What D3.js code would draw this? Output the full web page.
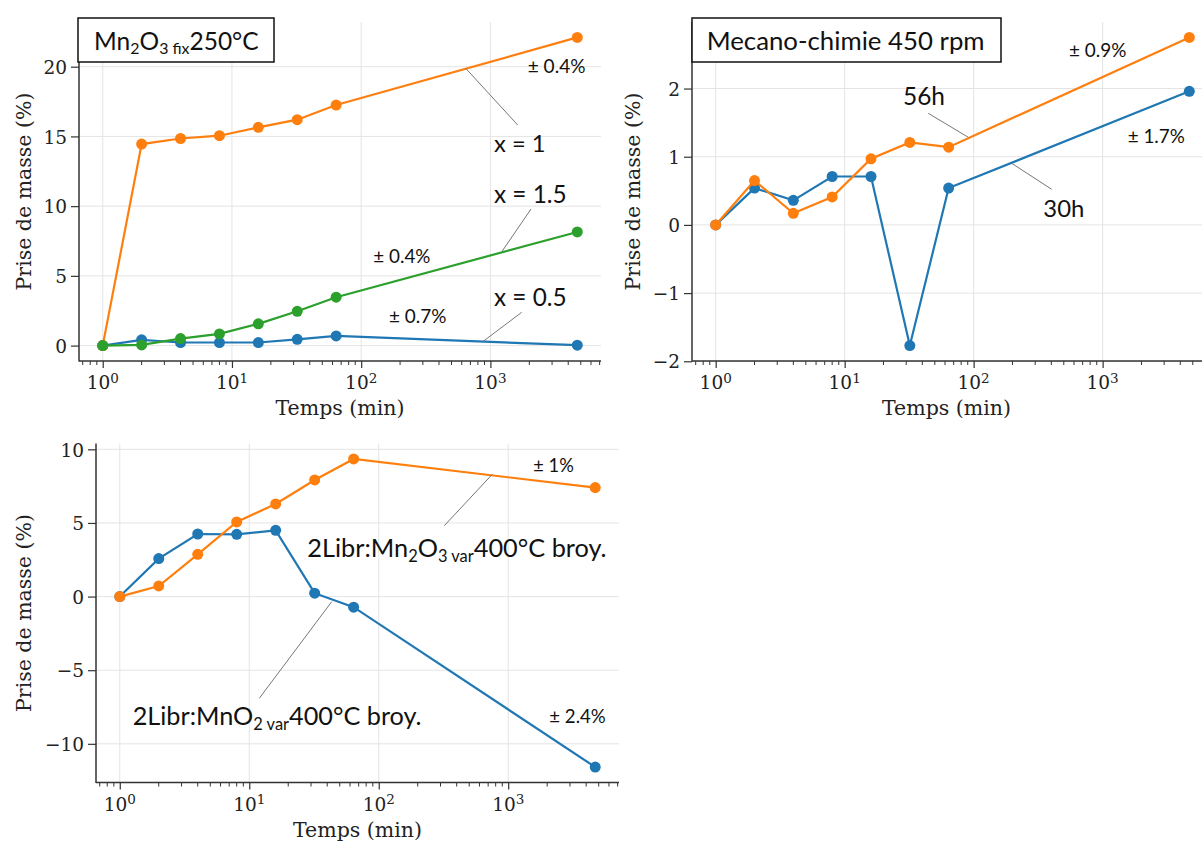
<!DOCTYPE html>
<html>
<head>
<meta charset="utf-8">
<script src="https://cdn.jsdelivr.net/npm/d3@7"></script>
<style>
  html, body { margin: 0; padding: 0; background: #fff; }
  svg { display: block; }
</style>
</head>
<body>
<svg id="chart" width="1202" height="841"></svg>
<script>
// ---------------- DATA ----------------
const timeMin = [1, 2, 4, 8, 16, 32, 64, 4700];

// Panel 1 : Mn2O3 fix 250°C
const p1_x05 = [0, 0.41, 0.22, 0.22, 0.22, 0.45, 0.69, 0.03];
const p1_x1  = [0, 14.45, 14.85, 15.05, 15.65, 16.2, 17.25, 22.1];
const p1_x15 = [0, 0.05, 0.5, 0.84, 1.56, 2.46, 3.47, 8.15];

// Panel 2 : Mecano-chimie 450 rpm
const p2_30h = [0, 0.54, 0.36, 0.71, 0.71, -1.77, 0.54, 1.96];
const p2_56h = [0, 0.65, 0.17, 0.41, 0.97, 1.21, 1.14, 2.75];

// Panel 3 : 2Libr
const p3_MnO2  = [0, 2.58, 4.25, 4.23, 4.5, 0.23, -0.72, -11.58];
const p3_Mn2O3 = [0, 0.72, 2.87, 5.07, 6.29, 7.92, 9.35, 7.40];

const xMajorTicks = [1, 10, 100, 1000];
const xTickExponents = ["0", "1", "2", "3"];
const p1_yTicks = [0, 5, 10, 15, 20];
const p2_yTicks = [-2, -1, 0, 1, 2];
const p3_yTicks = [-10, -5, 0, 5, 10];

const xLabel = "Temps (min)";
const yLabel = "Prise de masse (%)";

// Text segments (sub = subscript)
const title1 = [{t: "Mn"}, {t: "2", sub: true}, {t: "O"}, {t: "3 fix", sub: true}, {t: "250°C"}];
const title2 = [{t: "Mecano-chimie 450 rpm"}];
const lblX1 = [{t: "x = 1"}];
const lblX15 = [{t: "x = 1.5"}];
const lblX05 = [{t: "x = 0.5"}];
const lbl56h = [{t: "56h"}];
const lbl30h = [{t: "30h"}];
const lblMn2O3 = [{t: "2Libr:Mn"}, {t: "2", sub: true}, {t: "O"}, {t: "3 var", sub: true}, {t: "400°C broy."}];
const lblMnO2 = [{t: "2Libr:MnO"}, {t: "2 var", sub: true}, {t: "400°C broy."}];
const err04 = [{t: "± 0.4%"}];
const err07 = [{t: "± 0.7%"}];
const err09 = [{t: "± 0.9%"}];
const err17 = [{t: "± 1.7%"}];
const err1 = [{t: "± 1%"}];
const err24 = [{t: "± 2.4%"}];

// ---------------- STYLE / LAYOUT ----------------
const C = { blue: "#1f77b4", orange: "#ff7f0e", green: "#2ca02c" };
const serif = "'DejaVu Serif', serif";
const sans = "Lato, 'Open Sans', sans-serif";

const svg = d3.select("#chart");
svg.append("rect").attr("width", 1202).attr("height", 841).attr("fill", "#fff");

function drawPanel(cfg) {
  const g = svg.append("g");
  const L = Math.log10(d3.max(timeMin)) - Math.log10(d3.min(timeMin));
  const lo = Math.log10(d3.min(timeMin)) - 0.05 * L;
  const hi = Math.log10(d3.max(timeMin)) + 0.05 * L;
  const x = d3.scaleLog().domain([10 ** lo, 10 ** hi]).range([cfg.left, cfg.left + cfg.width]);
  const all = cfg.series.flatMap(s => s.values);
  const ymin = d3.min(all), ymax = d3.max(all), r = ymax - ymin;
  const y = d3.scaleLinear().domain([ymin - 0.05 * r, ymax + 0.05 * r])
    .range([cfg.top + cfg.height, cfg.top]);
  const bottom = cfg.top + cfg.height;

  // grid
  g.append("g").selectAll("line.vx").data(xMajorTicks).join("line")
    .attr("x1", d => x(d)).attr("x2", d => x(d))
    .attr("y1", cfg.top).attr("y2", bottom)
    .attr("stroke", "#e4e4e4").attr("stroke-width", 1);
  g.append("g").selectAll("line.hy").data(cfg.yTicks).join("line")
    .attr("x1", cfg.left).attr("x2", cfg.left + cfg.width)
    .attr("y1", d => y(d)).attr("y2", d => y(d))
    .attr("stroke", "#e4e4e4").attr("stroke-width", 1);

  // y axis
  const ya = g.append("g").attr("transform", `translate(${cfg.left},0)`)
    .call(d3.axisLeft(y).tickValues(cfg.yTicks).tickSize(8).tickPadding(4)
      .tickFormat(d => (d < 0 ? "\u2212" + Math.abs(d) : String(d))));
  ya.select(".domain").remove();
  ya.selectAll("line").attr("stroke", "#333").attr("stroke-width", 1.2);
  ya.selectAll("text").attr("font-family", serif).attr("font-size", 18.5).attr("fill", "#222")
    .attr("dy", "0.36em");

  // x axis minor ticks
  const minors = [];
  for (let d = -1; d <= 4; d++) for (let k = 2; k <= 9; k++) {
    const v = k * 10 ** d;
    if (v >= x.domain()[0] && v <= x.domain()[1]) minors.push(v);
  }
  g.append("g").selectAll("line").data(minors).join("line")
    .attr("x1", d => x(d)).attr("x2", d => x(d))
    .attr("y1", bottom).attr("y2", bottom + 4)
    .attr("stroke", "#333").attr("stroke-width", 1);
  const xa = g.append("g").attr("transform", `translate(0,${bottom})`)
    .call(d3.axisBottom(x).tickValues(xMajorTicks).tickSize(7).tickFormat(""));
  xa.select(".domain").remove();
  xa.selectAll("line").attr("stroke", "#333").attr("stroke-width", 1.2);
  const xl = g.append("g").selectAll("text").data(xMajorTicks).join("text")
    .attr("x", d => x(d)).attr("y", bottom + 28)
    .attr("text-anchor", "middle").attr("font-family", serif).attr("font-size", 18.5).attr("fill", "#222");
  xl.append("tspan").text("10");
  xl.append("tspan").attr("dy", "-0.45em").attr("font-size", 13.5).text((d, i) => xTickExponents[i]);

  // spines
  g.append("line").attr("x1", cfg.left).attr("x2", cfg.left).attr("y1", cfg.top).attr("y2", bottom + 0.6)
    .attr("stroke", "#333").attr("stroke-width", 1.5);
  g.append("line").attr("x1", cfg.left).attr("x2", cfg.left + cfg.width).attr("y1", bottom).attr("y2", bottom)
    .attr("stroke", "#333").attr("stroke-width", 1.5);

  // axis labels
  g.append("text").attr("x", cfg.left + cfg.width / 2 - (cfg.xLabelShift || 0)).attr("y", bottom + 54)
    .attr("text-anchor", "middle").attr("font-family", serif).attr("font-size", 20.5).attr("fill", "#222")
    .text(xLabel);
  g.append("text").attr("transform", `translate(${cfg.yLabelX},${cfg.top + cfg.height / 2}) rotate(-90)`)
    .attr("text-anchor", "middle").attr("dy", "0.35em").attr("font-family", serif).attr("font-size", 20.5)
    .attr("fill", "#222").text(yLabel);

  // series
  const line = d3.line().x((d, i) => x(timeMin[i])).y(d => y(d));
  cfg.series.forEach(s => {
    g.append("path").datum(s.values).attr("d", line)
      .attr("fill", "none").attr("stroke", s.color).attr("stroke-width", 2.2);
    g.append("g").selectAll("circle").data(s.values).join("circle")
      .attr("cx", (d, i) => x(timeMin[i])).attr("cy", d => y(d)).attr("r", 5.5)
      .attr("fill", s.color);
  });
  return g;
}

function richText(g, segs, xPos, yBase, targetW, size) {
  const t = g.append("text").attr("x", xPos).attr("y", yBase)
    .attr("font-family", sans).attr("font-size", size).attr("fill", "#111");
  segs.forEach(s => {
    const sp = t.append("tspan").text(s.t);
    if (s.sub) sp.attr("font-size", "0.65em").attr("baseline-shift", "-0.28em");
  });
  if (targetW) {
    const w = t.node().getBBox().width;
    if (w > 0) t.attr("font-size", size * targetW / w);
  }
  return t;
}
function leader(g, x1, y1, x2, y2) {
  g.append("line").attr("x1", x1).attr("y1", y1).attr("x2", x2).attr("y2", y2)
    .attr("stroke", "#777").attr("stroke-width", 1);
}
function titleBox(g, bx, by, bw, bh, segs, tx, ty, tw, size) {
  g.append("rect").attr("x", bx).attr("y", by).attr("width", bw).attr("height", bh)
    .attr("fill", "#fff").attr("stroke", "#111").attr("stroke-width", 1.5);
  richText(g, segs, tx, ty, tw, size);
}

// Panel 1
const g1 = drawPanel({
  left: 79, top: 22, width: 522, height: 339, yTicks: p1_yTicks, yLabelX: 24,
  series: [{values: p1_x05, color: C.blue}, {values: p1_x1, color: C.orange}, {values: p1_x15, color: C.green}]
});
leader(g1, 465.7, 68.3, 517.7, 125);
leader(g1, 531, 209, 502.3, 251);
leader(g1, 521.7, 312.3, 482.7, 341.7);
richText(g1, err04, 527.7, 73.3, 58, 16);
richText(g1, lblX1, 494, 151.7, 51.7, 22);
richText(g1, lblX15, 494, 202.7, 72.7, 22);
richText(g1, err04, 373.3, 263.3, 57.4, 16);
richText(g1, lblX05, 494, 306, 72.7, 22);
richText(g1, err07, 389, 323.3, 57.7, 16);
titleBox(g1, 78, 18, 196, 44, title1, 94, 50, 165, 25);

// Panel 2
const g2 = drawPanel({
  left: 692, top: 22, width: 521, height: 339, yTicks: p2_yTicks, yLabelX: 633, xLabelShift: 6,
  series: [{values: p2_30h, color: C.blue}, {values: p2_56h, color: C.orange}]
});
leader(g2, 928.3, 113.3, 968.3, 137.3);
leader(g2, 1011.7, 163.3, 1051.7, 189.3);
richText(g2, lbl56h, 903, 105, 42, 23);
richText(g2, err09, 1069, 56.7, 57.7, 16);
richText(g2, err17, 1127.7, 142.7, 57.3, 16);
richText(g2, lbl30h, 1043.3, 217.3, 41, 23);
titleBox(g2, 692, 18, 309, 44, title2, 706.7, 50, 278, 22);

// Panel 3
const g3 = drawPanel({
  left: 96, top: 443.5, width: 523, height: 339, yTicks: p3_yTicks, yLabelX: 24,
  series: [{values: p3_MnO2, color: C.blue}, {values: p3_Mn2O3, color: C.orange}]
});
leader(g3, 492.3, 474.3, 444.3, 525.7);
leader(g3, 331.7, 601.7, 259.3, 698.3);
richText(g3, err1, 533.3, 472.3, 40.7, 16);
richText(g3, lblMn2O3, 307.3, 556.7, 299.4, 26);
richText(g3, lblMnO2, 132.7, 725, 289, 26);
richText(g3, err24, 549.3, 722.7, 56.7, 16);
</script>
</body>
</html>
